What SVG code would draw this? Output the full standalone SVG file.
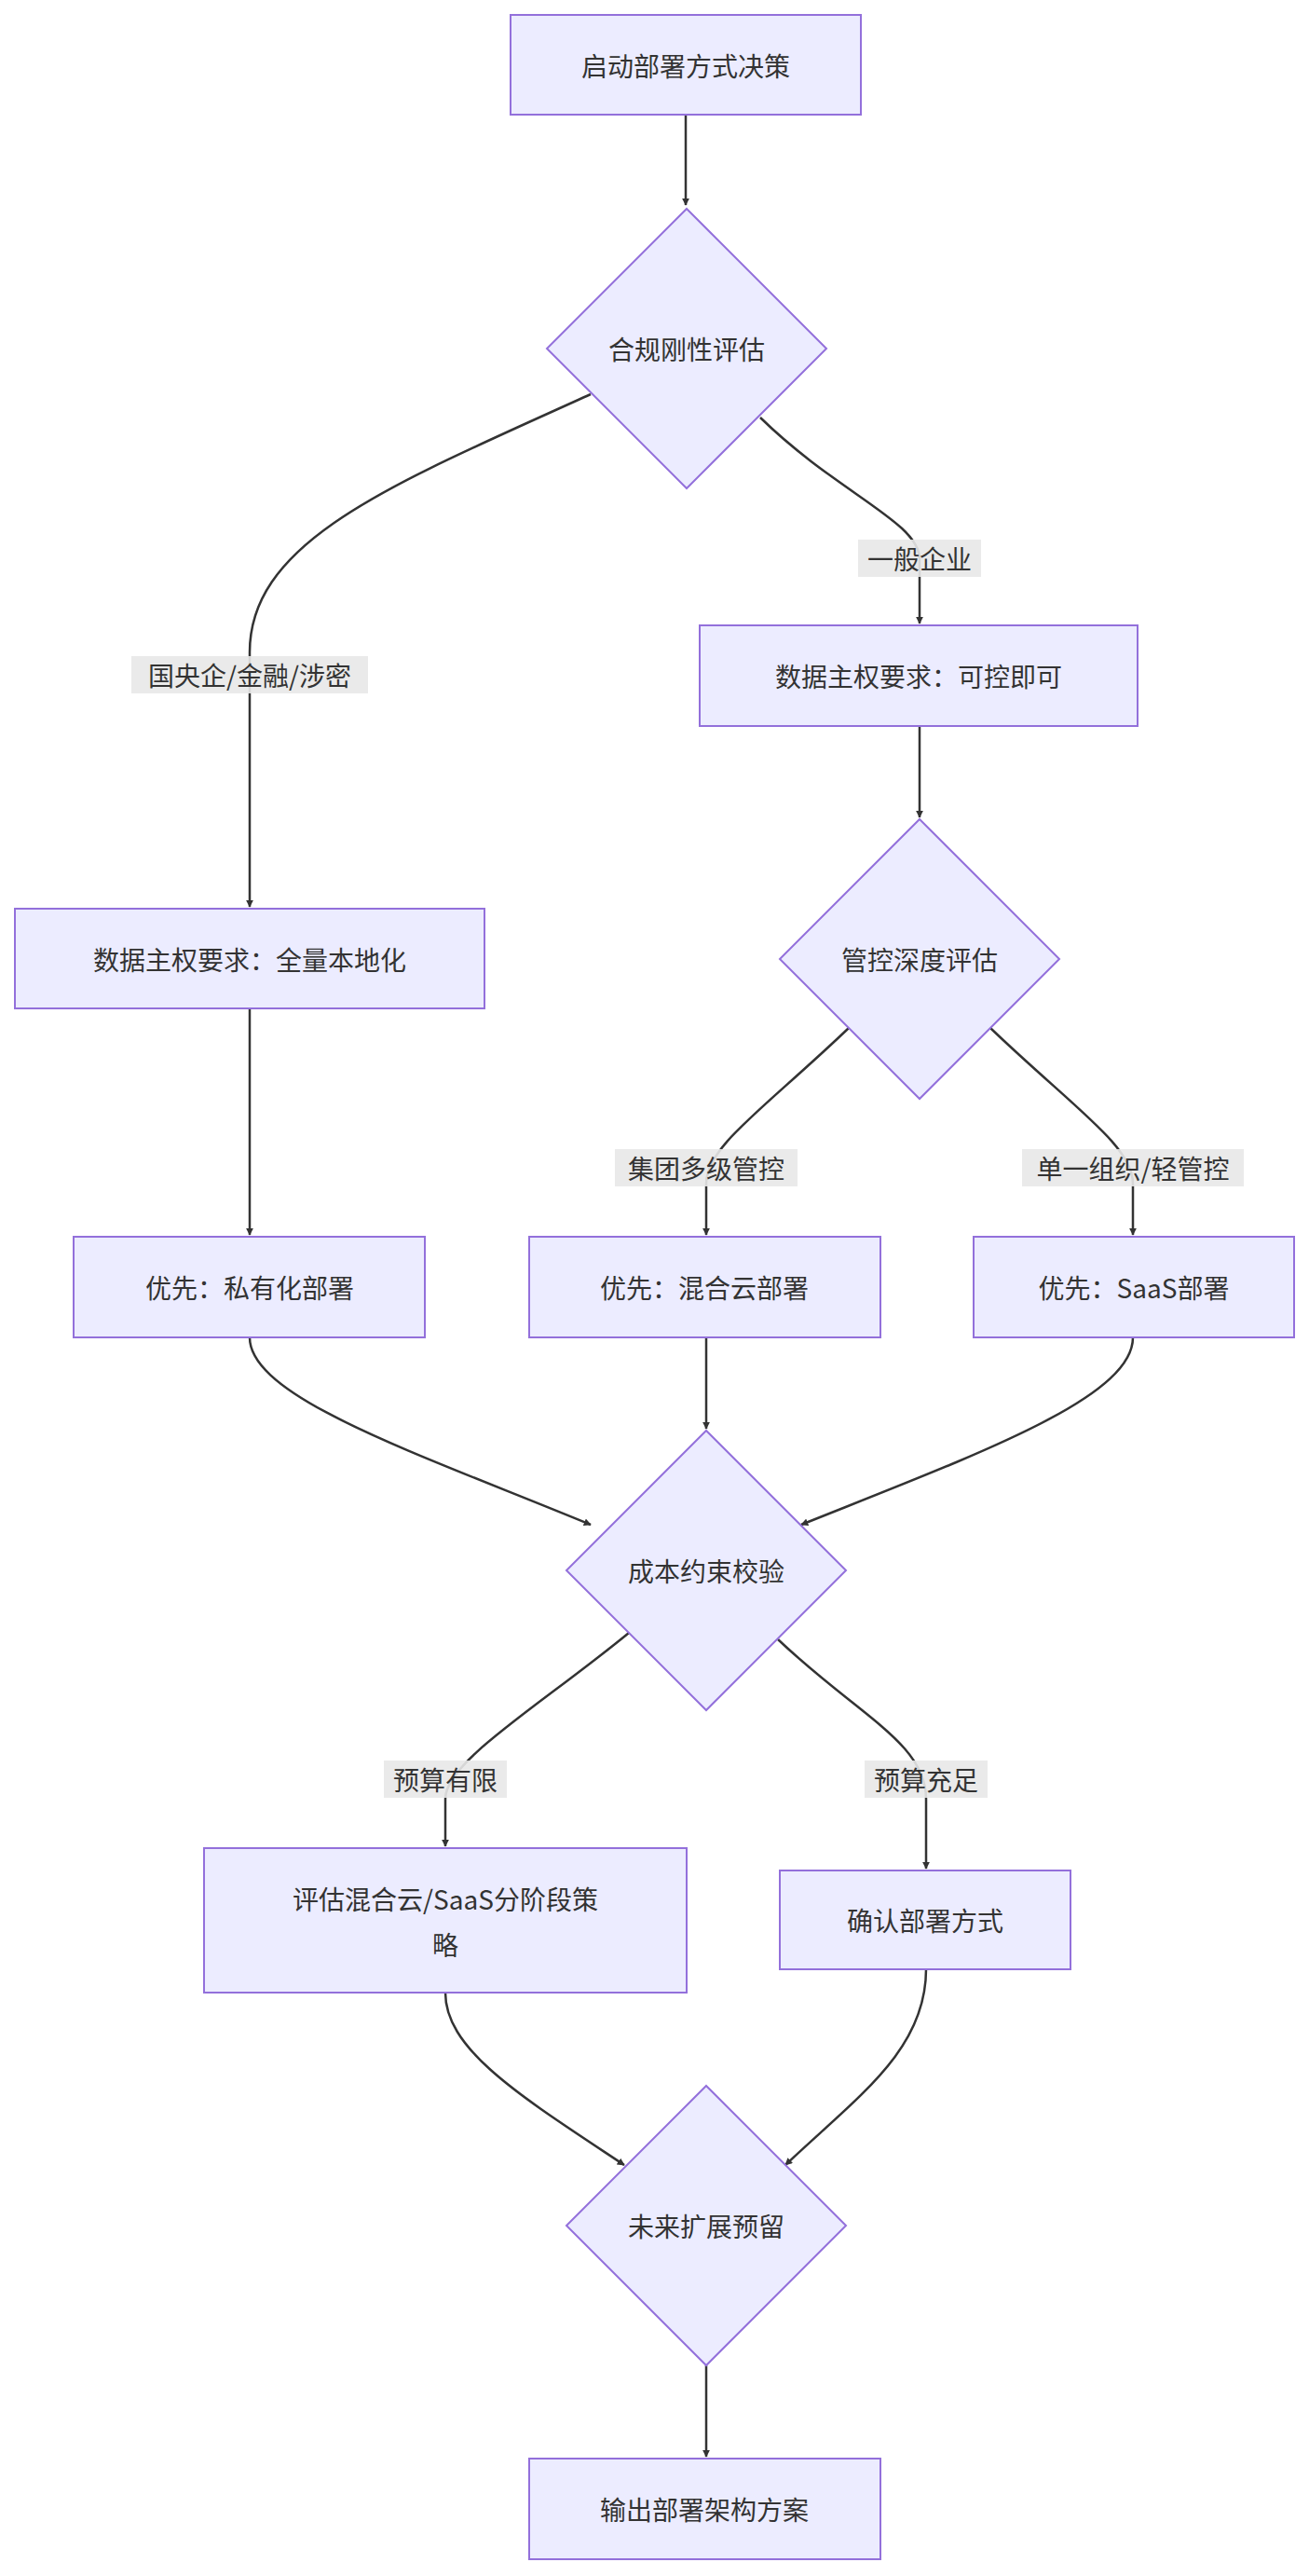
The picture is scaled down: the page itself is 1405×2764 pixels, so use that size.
<svg xmlns="http://www.w3.org/2000/svg" width="1405" height="2764" viewBox="0 0 1405 2764">
<style>
.n{fill:#ECECFF;stroke:#9370DB;stroke-width:2}
.t{font-family:"Noto Sans CJK SC","Liberation Sans",sans-serif;font-size:28px;fill:#333;text-anchor:middle;dominant-baseline:central}
.e{fill:none;stroke:#333;stroke-width:2.5;marker-end:url(#ar)}
.lb{fill:#e8e8e8;opacity:0.9}
</style>
<defs><marker id="ar" viewBox="0 0 10 10" refX="9" refY="5" markerWidth="8" markerHeight="8" markerUnits="userSpaceOnUse" orient="auto"><path d="M0,0L10,5L0,10z" fill="#333"/></marker></defs>
<rect width="1405" height="2764" fill="#fff"/>
<g id="edges">
<path class="e" d="M736,123L736,220"/>
<path class="e" d="M634,423C420,520 268,580 268,700L268,973"/>
<path class="e" d="M816,448C900,530 987,560 987,600L987,669"/>
<path class="e" d="M987,779L987,877"/>
<path class="e" d="M268,1082L268,1325"/>
<path class="e" d="M911,1103C820,1190 758,1230 758,1270L758,1325"/>
<path class="e" d="M1063,1103C1154,1190 1216,1230 1216,1270L1216,1325"/>
<path class="e" d="M268,1435C268,1500 450,1560 634,1636"/>
<path class="e" d="M758,1435L758,1533"/>
<path class="e" d="M1216,1435C1216,1500 1050,1560 860,1636"/>
<path class="e" d="M675,1752C580,1830 478,1890 478,1930L478,1981"/>
<path class="e" d="M835,1759C920,1840 994,1870 994,1930L994,2005"/>
<path class="e" d="M478,2138C478,2200 560,2250 670,2323"/>
<path class="e" d="M994,2113C994,2200 920,2250 843,2323"/>
<path class="e" d="M758,2538L758,2636"/>
</g>
<g id="labels">
<rect class="lb" x="921" y="579" width="132" height="40"/><text class="t" x="987" y="599">一般企业</text>
<rect class="lb" x="141" y="704" width="254" height="40"/><text class="t" x="268" y="724">国央企/金融/涉密</text>
<rect class="lb" x="660" y="1233" width="196" height="40"/><text class="t" x="758" y="1253">集团多级管控</text>
<rect class="lb" x="1097" y="1233" width="238" height="40"/><text class="t" x="1216" y="1253">单一组织/轻管控</text>
<rect class="lb" x="412" y="1889" width="132" height="40"/><text class="t" x="478" y="1909">预算有限</text>
<rect class="lb" x="928" y="1889" width="132" height="40"/><text class="t" x="994" y="1909">预算充足</text>
</g>
<g id="A"><rect class="n" x="548" y="16" width="376" height="107"/><text class="t" x="736" y="70">启动部署方式决策</text></g>
<g id="B"><polygon class="n" points="737,224 887,374 737,524 587,374"/><text class="t" x="737" y="374">合规刚性评估</text></g>
<g id="C"><rect class="n" x="751" y="671" width="470" height="108"/><text class="t" x="986" y="725">数据主权要求：可控即可</text></g>
<g id="D"><rect class="n" x="16" y="975" width="504" height="107"/><text class="t" x="268" y="1029">数据主权要求：全量本地化</text></g>
<g id="E"><polygon class="n" points="987,879 1137,1029 987,1179 837,1029"/><text class="t" x="987" y="1029">管控深度评估</text></g>
<g id="F"><rect class="n" x="79" y="1327" width="377" height="108"/><text class="t" x="268" y="1381">优先：私有化部署</text></g>
<g id="G"><rect class="n" x="568" y="1327" width="377" height="108"/><text class="t" x="756" y="1381">优先：混合云部署</text></g>
<g id="H"><rect class="n" x="1045" y="1327" width="344" height="108"/><text class="t" x="1217" y="1381">优先：SaaS部署</text></g>
<g id="I"><polygon class="n" points="758,1535 908,1685 758,1835 608,1685"/><text class="t" x="758" y="1685">成本约束校验</text></g>
<g id="J"><rect class="n" x="219" y="1983" width="518" height="155"/><text class="t" x="478" y="2037">评估混合云/SaaS分阶段策</text><text class="t" x="478" y="2086">略</text></g>
<g id="K"><rect class="n" x="837" y="2007" width="312" height="106"/><text class="t" x="993" y="2060">确认部署方式</text></g>
<g id="L"><polygon class="n" points="758,2238 908,2388 758,2538 608,2388"/><text class="t" x="758" y="2388">未来扩展预留</text></g>
<g id="M"><rect class="n" x="568" y="2638" width="377" height="108"/><text class="t" x="756" y="2692">输出部署架构方案</text></g>
</svg>
